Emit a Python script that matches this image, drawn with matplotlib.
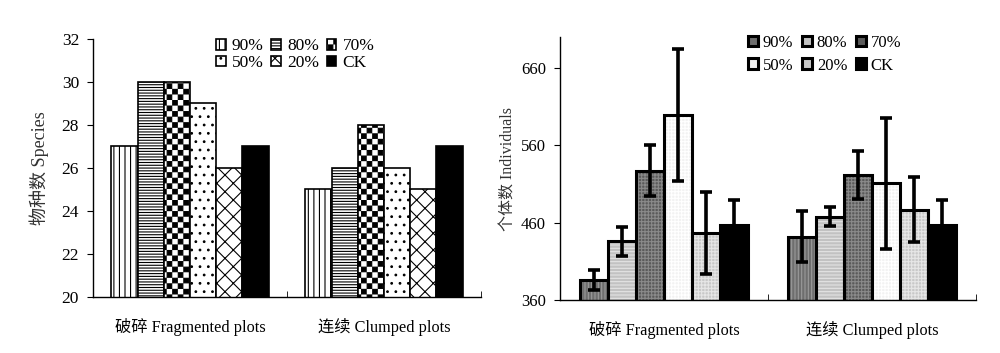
import warnings
import numpy as np
import matplotlib
matplotlib.use("Agg")
import matplotlib.pyplot as plt
import matplotlib.hatch as mhatch
from matplotlib.path import Path
from matplotlib.patches import Patch

warnings.filterwarnings("ignore")

# ---- data ----
groups = ["破碎 Fragmented plots", "连续 Clumped plots"]
treatments = ["90%", "80%", "70%", "50%", "20%", "CK"]

# species richness (left panel), one list per group
species_frag = [27, 30, 30, 29, 26, 27]
species_clump = [25, 26, 28, 26, 25, 27]

# individuals (right panel), mean and error
indiv_frag = [386, 436, 527, 599, 447, 457]
indiv_frag_err = [13, 19, 33, 85, 53, 32]
indiv_clump = [442, 468, 522, 511, 477, 457]
indiv_clump_err = [33, 12, 31, 85, 42, 32]


# checkerboard hatch ('c'), matplotlib has none built in
class CheckerHatch(mhatch.HatchPatternBase):
    filled = True

    def __init__(self, hatch, density):
        self.num_cells = hatch.count("c") * density
        self.num_vertices = (self.num_cells ** 2 // 2) * 5

    def set_vertices_and_codes(self, vertices, codes):
        n = self.num_cells
        s = 1.0 / n
        d = 0.005  # shrink a little, the hatch stroke widens the squares
        k = 0
        for i in range(n):
            for j in range(n):
                if (i + j) % 2:
                    continue
                x0, y0, x1, y1 = i * s + d, j * s + d, (i + 1) * s - d, (j + 1) * s - d
                vertices[k:k + 5] = [(x0, y0), (x1, y0), (x1, y1), (x0, y1), (x0, y0)]
                codes[k:k + 5] = [Path.MOVETO, Path.LINETO, Path.LINETO, Path.LINETO, Path.CLOSEPOLY]
                k += 5


mhatch._hatch_types.append(CheckerHatch)

plt.rcParams["font.family"] = ["Liberation Serif", "Noto Sans CJK SC"]
plt.rcParams["hatch.linewidth"] = 0.8

fig = plt.figure(figsize=(10, 3.53), dpi=100)

x = np.arange(len(groups))
width = 0.81 / len(treatments)
offsets = (np.arange(len(treatments)) - 2.5) * width


def row_order(items):
    # legend fills column by column; reorder so it reads row by row
    return [items[i] for i in (0, 3, 1, 4, 2, 5)]


def style_axes(ax, ylabel, ylabel_size, labelpad):
    ax.spines["top"].set_visible(False)
    ax.spines["right"].set_visible(False)
    ax.spines["left"].set_linewidth(1.0)
    ax.spines["bottom"].set_linewidth(1.0)
    ax.set_xlim(-0.5, 1.5)
    ax.set_xticks(x)
    ax.set_xticklabels(groups, fontsize=11.7)
    ax.tick_params(axis="x", which="major", length=0, pad=15)
    ax.set_xticks([0.5, 1.5], minor=True)
    ax.tick_params(axis="x", which="minor", direction="in", length=4)
    ax.tick_params(axis="y", direction="out", length=4, pad=6, labelsize=12.5)
    ax.set_ylabel(ylabel, fontsize=ylabel_size, color="#333333", labelpad=labelpad)


# ---- left panel: species ----
ax1 = fig.add_axes([0.093, 0.159, 0.388, 0.731])
left_hatch = ["|||", "------", "ccc", "..", "xx", None]
left_face = ["white", "white", "white", "white", "white", "black"]
bars1 = []
for i, t in enumerate(treatments):
    vals = [species_frag[i], species_clump[i]]
    b = ax1.bar(x + offsets[i], vals, width, color=left_face[i], edgecolor="black",
                linewidth=1.2, hatch=left_hatch[i], label=t)
    bars1.append(b)
ax1.set_ylim(20, 32)
ax1.set_yticks(np.arange(20, 33, 2))
style_axes(ax1, "物种数 Species", 13, 9)
ax1.legend(row_order(bars1), row_order(treatments), loc="upper center",
           bbox_to_anchor=(0.521, 1.035), ncol=3, frameon=False, fontsize=12.5,
           handlelength=0.55, handleheight=0.55, handletextpad=0.35,
           columnspacing=0.45, labelspacing=0.05, borderpad=0.0)

# ---- right panel: individuals ----
ax2 = fig.add_axes([0.560, 0.150, 0.416, 0.745])
right_face = ["#6e6e6e", "#c2c2c2", "#5a5a5a", "#f2f2f2", "#c8c8c8", "black"]
right_hcol = ["#9a9a9a", "#e4e4e4", "#8a8a8a", "#ffffff", "#e6e6e6", "black"]
right_hatch = ["|||||", "-----", "+++++", "+++++", "+++++", None]
handles = []
for i, t in enumerate(treatments):
    vals = [indiv_frag[i], indiv_clump[i]]
    errs = [indiv_frag_err[i], indiv_clump_err[i]]
    ax2.bar(x + offsets[i], vals, width, color=right_face[i], edgecolor=right_hcol[i],
            linewidth=0, hatch=right_hatch[i])
    ax2.bar(x + offsets[i], vals, width, fill=False, edgecolor="black", linewidth=2.2)
    ax2.errorbar(x + offsets[i], vals, yerr=errs, fmt="none", ecolor="black",
                 elinewidth=2.6, capsize=4.5, capthick=2.6, zorder=5)
    handles.append(Patch(facecolor=right_face[i], edgecolor="black", linewidth=2.2, label=t))
ax2.set_ylim(360, 700)
ax2.set_yticks([360, 460, 560, 660])
style_axes(ax2, "个体数 Individuals", 11.5, 3)
ax2.tick_params(axis="y", labelsize=12)
ax2.legend(row_order(handles), row_order(treatments), loc="upper center",
           bbox_to_anchor=(0.636, 1.04), ncol=3, frameon=False, fontsize=12,
           handlelength=0.6, handleheight=0.6, handletextpad=0.3,
           columnspacing=0.5, labelspacing=0.4, borderpad=0.0)

fig.savefig("out.png", dpi=100)
